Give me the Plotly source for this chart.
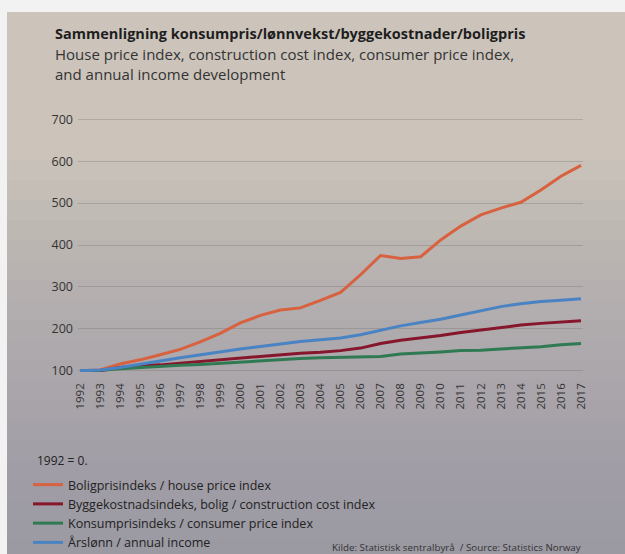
import plotly.graph_objects as go

years = list(range(1992, 2018))
house_price = [100, 102, 116, 126, 138, 151, 169, 189, 214, 232, 245, 250, 268, 287,
               329, 375, 368, 372, 412, 445, 472, 488, 502, 531, 564, 590]
construction = [100, 100, 108, 112, 114, 118, 121, 125, 130, 134, 138, 142, 144, 148,
                154, 165, 173, 178, 184, 191, 197, 203, 209, 213, 216, 219]
cpi = [100, 101, 105, 108, 110, 113, 115, 118, 121, 124, 127, 129, 131, 132,
       133, 134, 140, 142, 145, 148, 149, 152, 154, 157, 162, 165]
income = [100, 102, 108, 115, 123, 131, 138, 146, 152, 158, 164, 170, 174, 178,
          186, 197, 207, 215, 223, 233, 243, 253, 260, 265, 268, 272]

series_names = [
    "Boligprisindeks / house price index",
    "Byggekostnadsindeks, bolig / construction cost index",
    "Konsumprisindeks / consumer price index",
    "Årslønn / annual income",
]
series_values = [house_price, construction, cpi, income]
series_colors = ["#d8613f", "#86162b", "#2f7a52", "#4a83c4"]

y_ticks = [100, 200, 300, 400, 500, 600, 700]

W, H = 625, 554
L, R, T, B = 78, 42, 118, 182
PW, PH = W - L - R, H - T - B


def px(x):
    return (x - L) / PW


def py(y):
    return (H - B - y) / PH


FONT = "Open Sans, Roboto, sans-serif"

fig = go.Figure()
for name, vals, col in zip(series_names, series_values, series_colors):
    fig.add_trace(go.Scatter(x=years, y=vals, name=name, mode="lines",
                             line=dict(color=col, width=3)))


def rect(x0, y0, x1, y1, color):
    return dict(type="rect", xref="paper", yref="paper", x0=px(x0), x1=px(x1),
                y0=py(y1), y1=py(y0), fillcolor=color, line=dict(width=0), layer="below")


# printed page in the photo, with a soft top-to-bottom lighting gradient
shapes = [rect(7, 12, W, H, "#ccc4bb")]
for y0 in range(160, 554, 20):
    shapes.append(rect(7, y0, W, H, "rgba(128,142,156,0.05)"))


def ann(text, x, y, size, color="#333", xanchor="left"):
    return dict(text=text, xref="paper", yref="paper", x=px(x), y=py(y),
                xanchor=xanchor, yanchor="middle", showarrow=False,
                font=dict(size=size, color=color, family=FONT))


annotations = [
    ann("<b>Sammenligning konsumpris/lønnvekst/byggekostnader/boligpris</b>", 53, 34, 14.5, "#1e1e1e"),
    ann("House price index, construction cost index, consumer price index,", 53, 54, 15),
    ann("and annual income development", 53, 74, 15),
    ann("1992 = 0.", 35, 460, 12, "#222"),
    ann("Kilde: Statistisk sentralbyrå  / Source: Statistics Norway", 583, 547, 9.8,
        xanchor="right"),
]

fig.update_layout(
    width=W, height=H,
    margin=dict(l=L, r=R, t=T, b=B, autoexpand=False),
    paper_bgcolor="#f2f2f2",
    plot_bgcolor="rgba(0,0,0,0)",
    font=dict(family=FONT, color="#333"),
    shapes=shapes,
    annotations=annotations,
    showlegend=True,
    legend=dict(xref="container", yref="container", x=28 / W, y=1 - 470 / H,
                xanchor="left", yanchor="top", bgcolor="rgba(0,0,0,0)",
                font=dict(size=12.5, color="#222", family=FONT),
                tracegroupgap=0, itemclick=False),
    xaxis=dict(range=[1991.9, 2017.1], tickmode="array", tickvals=years,
               ticktext=[str(y) for y in years], tickangle=-90,
               showgrid=False, zeroline=False, showline=False, ticks="",
               ticklabelstandoff=8, tickfont=dict(size=11.5, color="#333")),
    yaxis=dict(range=[97, 703], tickmode="array", tickvals=y_ticks,
               showgrid=True, gridcolor="rgba(110,105,100,0.3)", gridwidth=1,
               zeroline=False, showline=False, ticks="", ticklabelstandoff=4,
               tickfont=dict(size=12.5, color="#333")),
)

fig.write_html("out.html")
